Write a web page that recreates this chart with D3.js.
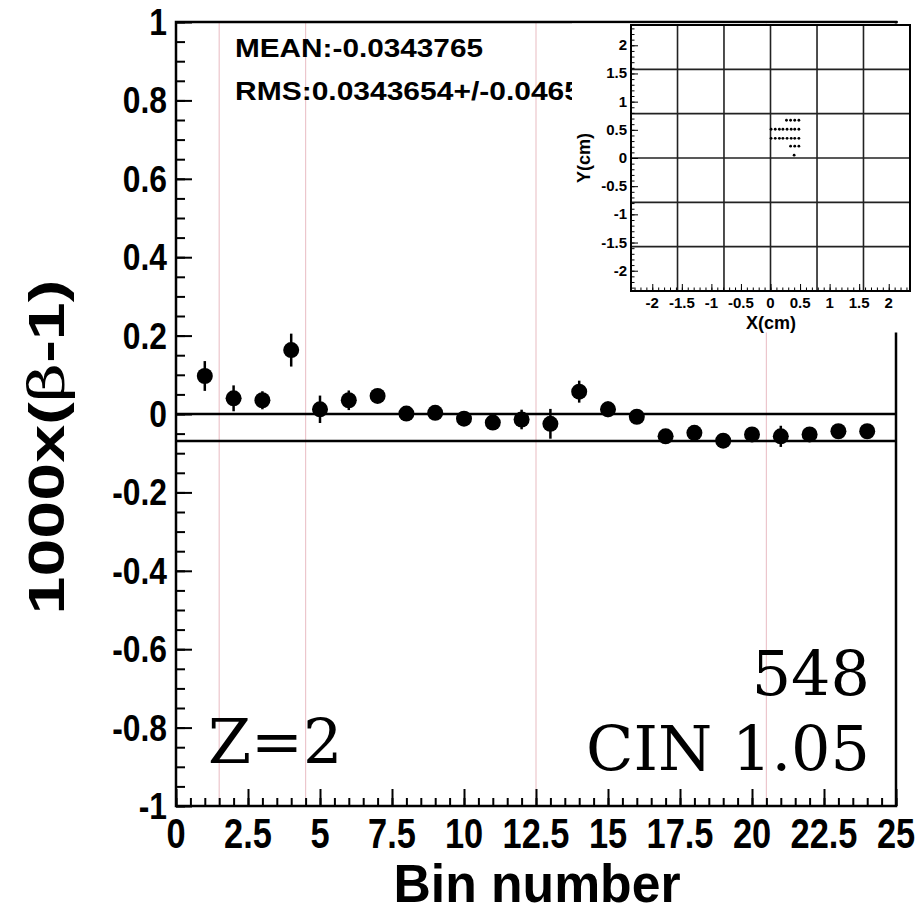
<!DOCTYPE html>
<html>
<head>
<meta charset="utf-8">
<script src="https://cdn.jsdelivr.net/npm/d3@7"></script>
<style>
  html, body { margin: 0; padding: 0; background: #fff; }
  svg { display: block; }
  .sans { font-family: "Liberation Sans", Arial, Helvetica, sans-serif; font-weight: bold; }
  .serif { font-family: "DejaVu Serif", serif; }
</style>
</head>
<body>
<svg id="chart" width="923" height="914"></svg>
<script>
// ---- data ----
const bins = [1, 2, 3, 4, 5, 6, 7, 8, 9, 10, 11, 12, 13, 14, 15, 16, 17, 18, 19, 20, 21, 22, 23, 24];
const values = [0.097, 0.040, 0.035, 0.163, 0.012, 0.035, 0.046, 0.001, 0.003, -0.012, -0.022, -0.014,
                -0.025, 0.057, 0.012, -0.007, -0.057, -0.048, -0.068, -0.052, -0.057, -0.052, -0.044, -0.044];
const errors = [0.038, 0.033, 0.023, 0.042, 0.035, 0.025, 0.015, 0.012, 0.012, 0.012, 0.012, 0.025,
                0.038, 0.028, 0.020, 0.012, 0.012, 0.012, 0.012, 0.012, 0.027, 0.012, 0.012, 0.012];
const refLines = [0, -0.0687];
const sectionEdges = [1.5, 4.5, 12.5, 20.5];
const xTickLabels = ["0", "2.5", "5", "7.5", "10", "12.5", "15", "17.5", "20", "22.5", "25"];
const yTickLabels = ["-1", "-0.8", "-0.6", "-0.4", "-0.2", "0", "0.2", "0.4", "0.6", "0.8", "1"];
const statLines = ["MEAN:-0.0343765", "RMS:0.0343654+/-0.0465"];
const runLabels = ["548", "CIN 1.05"];
const chargeLabel = "Z=2";

// hit map (inset): rows of hits in cm
const hitX = [0.27, 0.34, 0.41, 0.48,
              0.01, 0.08, 0.15, 0.21, 0.28, 0.35, 0.41, 0.48,
              0.01, 0.08, 0.15, 0.21, 0.28, 0.35, 0.41, 0.48,
              0.34, 0.41, 0.48,
              0.40];
const hitY = [0.67, 0.67, 0.67, 0.67,
              0.51, 0.51, 0.51, 0.51, 0.51, 0.51, 0.51, 0.51,
              0.35, 0.35, 0.35, 0.35, 0.35, 0.35, 0.35, 0.35,
              0.21, 0.21, 0.21,
              0.05];
const padGrid = [-1.573, -0.787, 0, 0.787, 1.573];
const insetTickLabels = ["-2", "-1.5", "-1", "-0.5", "0", "0.5", "1", "1.5", "2"];

// ---- main plot ----
const svg = d3.select("#chart");
const x = d3.scaleLinear().domain([0, 25]).range([176, 896]);
const y = d3.scaleLinear().domain([-1, 1]).range([806, 22]);

// section boundaries
svg.append("g").selectAll("line").data(sectionEdges).join("line")
  .attr("x1", d => x(d)).attr("x2", d => x(d))
  .attr("y1", y(1)).attr("y2", y(-1))
  .attr("stroke", "#ecc6cc").attr("stroke-width", 1.2);

// ticks on the left (inside)
const yAxis = d3.axisRight(y).tickValues(d3.range(-1, 1.0001, 0.2)).tickSize(16).tickFormat("");
const gy = svg.append("g").attr("transform", `translate(${x(0)},0)`).call(yAxis);
gy.selectAll("line").attr("stroke", "#000").attr("stroke-width", 2);
gy.select(".domain").remove();
const yMinor = d3.axisRight(y).tickValues(d3.range(-1, 1.0001, 0.05)).tickSize(9).tickFormat("");
const gym = svg.append("g").attr("transform", `translate(${x(0)},0)`).call(yMinor);
gym.selectAll("line").attr("stroke", "#000").attr("stroke-width", 2);
gym.select(".domain").remove();

// ticks at the bottom (inside)
const xAxis = d3.axisTop(x).tickValues(d3.range(0, 25.001, 2.5)).tickSize(17).tickFormat("");
const gx = svg.append("g").attr("transform", `translate(0,${y(-1)})`).call(xAxis);
gx.selectAll("line").attr("stroke", "#000").attr("stroke-width", 2);
gx.select(".domain").remove();
const xMinor = d3.axisTop(x).tickValues(d3.range(0, 25.001, 0.5)).tickSize(8).tickFormat("");
const gxm = svg.append("g").attr("transform", `translate(0,${y(-1)})`).call(xMinor);
gxm.selectAll("line").attr("stroke", "#000").attr("stroke-width", 2);
gxm.select(".domain").remove();

// tick labels (condensed bold)
svg.append("g").selectAll("text").data(yTickLabels).join("text")
  .attr("class", "sans")
  .attr("transform", d => `translate(167,${y(+d) + 13}) scale(0.86,1)`)
  .attr("text-anchor", "end").attr("font-size", 37)
  .text(d => d);
svg.append("g").selectAll("text").data(xTickLabels).join("text")
  .attr("class", "sans")
  .attr("transform", d => `translate(${x(+d)},848) scale(0.8,1)`)
  .attr("text-anchor", "middle").attr("font-size", 43)
  .text(d => d);

// reference lines
svg.append("g").selectAll("line").data(refLines).join("line")
  .attr("x1", x(0)).attr("x2", x(25))
  .attr("y1", d => y(d)).attr("y2", d => y(d))
  .attr("stroke", "#000").attr("stroke-width", 2.5);

// error bars and markers
const pts = bins.map((b, i) => ({ b, v: values[i], e: errors[i] }));
svg.append("g").selectAll("line").data(pts).join("line")
  .attr("x1", d => x(d.b)).attr("x2", d => x(d.b))
  .attr("y1", d => y(d.v + d.e)).attr("y2", d => y(d.v - d.e))
  .attr("stroke", "#000").attr("stroke-width", 2.5);
svg.append("g").selectAll("circle").data(pts).join("circle")
  .attr("cx", d => x(d.b)).attr("cy", d => y(d.v)).attr("r", 8)
  .attr("fill", "#000");

// statistics box text
svg.append("g").selectAll("text").data(statLines).join("text")
  .attr("class", "sans")
  .attr("x", 235).attr("y", (d, i) => 57 + i * 43)
  .attr("font-size", 25)
  .attr("textLength", (d, i) => i === 0 ? 248 : 346)
  .attr("lengthAdjust", "spacingAndGlyphs")
  .text(d => d);

// frame
svg.append("rect").attr("x", x(0)).attr("y", y(1))
  .attr("width", x(25) - x(0)).attr("height", y(-1) - y(1))
  .attr("fill", "none").attr("stroke", "#000").attr("stroke-width", 2.5);

// axis titles
svg.append("text").attr("class", "sans")
  .attr("x", 537).attr("y", 902).attr("text-anchor", "middle")
  .attr("font-size", 54).attr("textLength", 287).attr("lengthAdjust", "spacingAndGlyphs")
  .text("Bin number");
const yt = svg.append("text").attr("class", "sans")
  .attr("transform", "translate(64,447) rotate(-90)")
  .attr("text-anchor", "middle").attr("font-size", 50)
  .attr("textLength", 335).attr("lengthAdjust", "spacingAndGlyphs");
yt.append("tspan").text("1000x(");
yt.append("tspan").attr("font-weight", "normal").attr("font-family", "DejaVu Serif, serif").text("β");
yt.append("tspan").text("-1)");

// run labels
svg.append("g").selectAll("text").data(runLabels).join("text")
  .attr("class", "serif")
  .attr("x", 870).attr("y", (d, i) => 695 + i * 75)
  .attr("text-anchor", "end").attr("font-size", 62)
  .text(d => d);
svg.append("text").attr("class", "serif")
  .attr("x", 208).attr("y", 763).attr("font-size", 62).text(chargeLabel);

// ---- inset: hit map ----
const inset = svg.append("g");
inset.append("rect").attr("x", 572).attr("y", 23.5).attr("width", 351).attr("height", 309).attr("fill", "#fff");
svg.append("line").attr("x1", 572).attr("x2", 898).attr("y1", 22).attr("y2", 22)
  .attr("stroke", "#000").attr("stroke-width", 1.5);
const ix = d3.scaleLinear().domain([-2.36, 2.36]).range([631, 910]);
const iy = d3.scaleLinear().domain([-2.36, 2.36]).range([291, 25]);

inset.append("g").selectAll("line").data(padGrid).join("line")
  .attr("x1", d => ix(d)).attr("x2", d => ix(d)).attr("y1", iy(2.36)).attr("y2", iy(-2.36))
  .attr("stroke", "#222").attr("stroke-width", 1.6);
inset.append("g").selectAll("line").data(padGrid).join("line")
  .attr("y1", d => iy(d)).attr("y2", d => iy(d)).attr("x1", ix(-2.36)).attr("x2", ix(2.36))
  .attr("stroke", "#222").attr("stroke-width", 1.6);

const ixMaj = d3.axisTop(ix).tickValues(d3.range(-2, 2.001, 0.5)).tickSize(7).tickFormat("");
const ixMin = d3.axisTop(ix).tickValues(d3.range(-2.3, 2.31, 0.1)).tickSize(3.5).tickFormat("");
const iyMaj = d3.axisRight(iy).tickValues(d3.range(-2, 2.001, 0.5)).tickSize(7).tickFormat("");
const iyMin = d3.axisRight(iy).tickValues(d3.range(-2.3, 2.31, 0.1)).tickSize(3.5).tickFormat("");
[[ixMaj, `translate(0,${iy(-2.36)})`], [ixMin, `translate(0,${iy(-2.36)})`],
 [iyMaj, `translate(${ix(-2.36)},0)`], [iyMin, `translate(${ix(-2.36)},0)`]].forEach(([ax, tr]) => {
  const g = inset.append("g").attr("transform", tr).call(ax);
  g.select(".domain").remove();
  g.selectAll("line").attr("stroke", "#000").attr("stroke-width", 1);
});

inset.append("rect").attr("x", ix(-2.36)).attr("y", iy(2.36))
  .attr("width", ix(2.36) - ix(-2.36)).attr("height", iy(-2.36) - iy(2.36))
  .attr("fill", "none").attr("stroke", "#000").attr("stroke-width", 2);

inset.append("g").selectAll("text").data(insetTickLabels).join("text")
  .attr("class", "sans").attr("font-size", 15)
  .attr("x", d => ix(+d)).attr("y", 308).attr("text-anchor", "middle").text(d => d);
inset.append("g").selectAll("text").data(insetTickLabels).join("text")
  .attr("class", "sans").attr("font-size", 15)
  .attr("x", 627).attr("y", d => iy(+d) + 5).attr("text-anchor", "end").text(d => d);
inset.append("text").attr("class", "sans").attr("font-size", 18)
  .attr("x", 771).attr("y", 329).attr("text-anchor", "middle").text("X(cm)");
inset.append("text").attr("class", "sans").attr("font-size", 18)
  .attr("transform", "translate(590,158) rotate(-90)").attr("text-anchor", "middle").text("Y(cm)");

inset.append("g").selectAll("circle").data(hitX.map((v, i) => [v, hitY[i]])).join("circle")
  .attr("cx", d => ix(d[0])).attr("cy", d => iy(d[1])).attr("r", 1.4).attr("fill", "#000");
</script>
</body>
</html>
